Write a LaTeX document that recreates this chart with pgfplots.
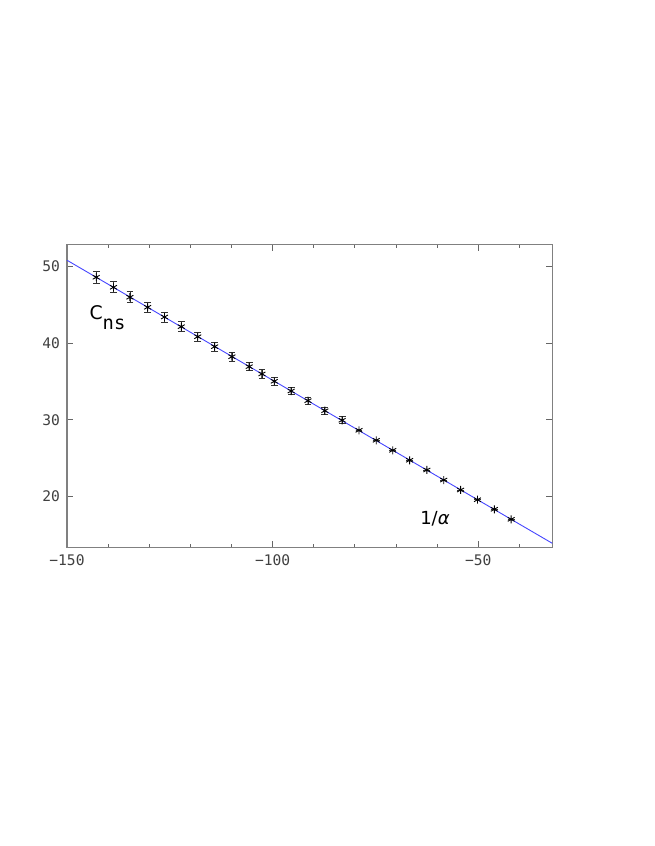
\documentclass[border=0pt]{standalone}
\usepackage{pgfplots}
\pgfplotsset{compat=1.18}
\usepackage{pgfplotstable}
\usepackage{fontspec}
\setmainfont{DejaVu Sans}
\setmonofont{DejaVu Sans Mono}

\pgfplotstableread{
x       y      err
-142.9  48.62  0.74
-138.7  47.31  0.72
-134.7  46.01  0.70
-130.4  44.70  0.68
-126.3  43.43  0.66
-122.2  42.17  0.64
-118.2  40.86  0.62
-114.1  39.56  0.59
-109.9  38.25  0.57
-105.7  36.95  0.55
-102.6  36.00  0.54
-99.6   35.04  0.52
-95.5   33.77  0.50
-91.4   32.51  0.49
-87.3   31.20  0.47
-83.1   29.95  0.46
-79.0   28.64  0
-74.8   27.34  0
-70.8   26.03  0
-66.7   24.73  0
-62.5   23.46  0
-58.4   22.15  0
-54.3   20.85  0
-50.2   19.58  0
-46.1   18.33  0
-42.0   17.02  0
}\cns

\definecolor{fitblue}{RGB}{70,70,255}

\begin{document}
\begin{tikzpicture}
\path[use as bounding box] (0,0) rectangle (327pt,423pt);
\begin{axis}[
  at={(33.5pt,149.35pt)}, anchor=south west,
  scale only axis, width=242.65pt, height=151.3pt,
  xmin=-150, xmax=-32, ymin=13.37, ymax=52.87,
  xtick={-150,-100,-50}, xticklabels={−150,−100,−50},
  minor xtick={-140,-130,-120,-110,-90,-80,-70,-60,-40},
  ytick={20,30,40,50},
  tick align=inside,
  major tick length=3pt, minor tick length=1.5pt,
  tick style={gray!80!black, line width=0.5pt},
  axis line style={gray, line width=0.6pt},
  /pgf/number format/assume math mode=true,
  ticklabel style={font=\fontsize{7.3}{9}\ttfamily, text=black!75},
  clip=false,
]
\addplot[fitblue, line width=0.45pt] coordinates {(-150,50.84) (-32,13.89)};
\addplot[black, only marks, mark=asterisk, mark size=2pt,
  mark options={line width=0.45pt},
  error bars/.cd, y dir=both, y explicit,
  error bar style={black!80, line width=0.4pt},
  error mark options={rotate=90, mark size=1.7pt, black!80, line width=0.4pt}]
  table[x=x, y=y, y error=err] {\cns};
\node[anchor=base west, inner sep=0pt] at (axis cs:-144.6,43.04)
  {\fontsize{9.4}{11}\selectfont C\raisebox{-5pt}{\ttfamily ns}};
\node[anchor=base west, inner sep=0pt] at (axis cs:-64.2,16.37)
  {\fontsize{9}{10}\selectfont 1/\textit{α}};
\end{axis}
\end{tikzpicture}
\end{document}
